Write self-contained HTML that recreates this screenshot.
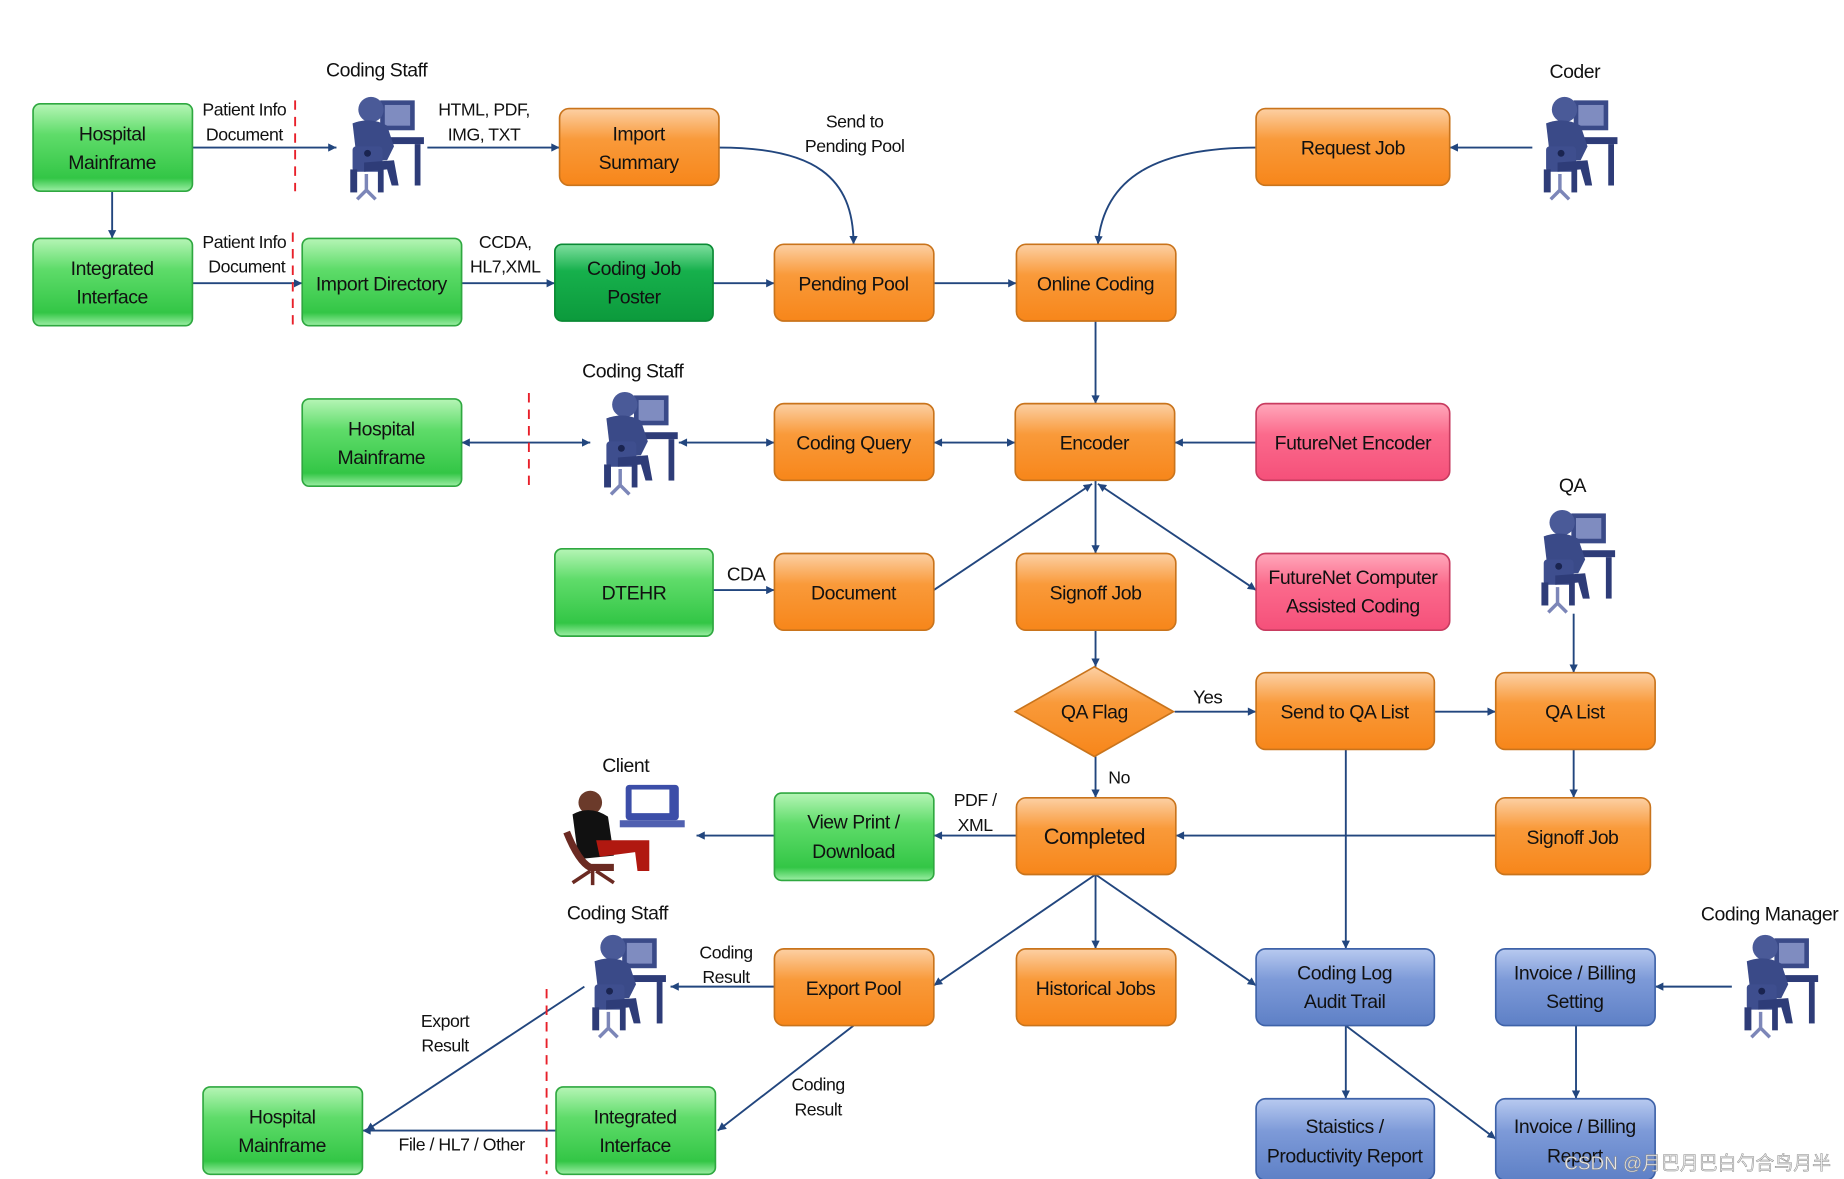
<!DOCTYPE html>
<html><head><meta charset="utf-8"><style>
html,body{margin:0;padding:0;background:#fff;}
svg{display:block;}
text{font-family:"Liberation Sans Narrow","Liberation Sans",sans-serif;}
</style></head><body>
<svg width="1844" height="1179" viewBox="0 0 1562 999" preserveAspectRatio="none" xmlns="http://www.w3.org/2000/svg">
<defs>
<linearGradient id="gG" x1="0" y1="0" x2="0" y2="1"><stop offset="0" stop-color="#b6f5b6"/><stop offset="0.35" stop-color="#5fdc6a"/><stop offset="0.85" stop-color="#33c646"/><stop offset="1" stop-color="#9ceea4"/></linearGradient>
<linearGradient id="gD" x1="0" y1="0" x2="0" y2="1"><stop offset="0" stop-color="#7fdf9f"/><stop offset="0.35" stop-color="#16b04c"/><stop offset="1" stop-color="#0c9a3c"/></linearGradient>
<linearGradient id="gO" x1="0" y1="0" x2="0" y2="1"><stop offset="0" stop-color="#fcd0a4"/><stop offset="0.4" stop-color="#f99a3a"/><stop offset="1" stop-color="#f7861a"/></linearGradient>
<linearGradient id="gP" x1="0" y1="0" x2="0" y2="1"><stop offset="0" stop-color="#ffa8bb"/><stop offset="0.4" stop-color="#fb6a8c"/><stop offset="1" stop-color="#f5507a"/></linearGradient>
<linearGradient id="gB" x1="0" y1="0" x2="0" y2="1"><stop offset="0" stop-color="#b8caf0"/><stop offset="0.4" stop-color="#7d9ad8"/><stop offset="1" stop-color="#5e80c6"/></linearGradient>
<marker id="a" viewBox="0 0 10 10" refX="10" refY="5" markerWidth="9" markerHeight="7" orient="auto-start-reverse" markerUnits="userSpaceOnUse"><path d="M0,0 L10,5 L0,10 z" fill="#22467e"/></marker>
<symbol id="p" viewBox="0 0 80 95">
<rect x="38" y="6" width="30" height="26" fill="#3a4a88"/><rect x="42" y="10" width="22" height="18" fill="#7f8cc0"/>
<rect x="30" y="38" width="46" height="6" fill="#2e3c78"/><rect x="68" y="44" width="5" height="36" fill="#2e3c78"/>
<circle cx="30" cy="14" r="11" fill="#4a5a98"/>
<path d="M14,26 Q30,20 44,28 L50,46 L44,58 L18,60 Z" fill="#3a4a88"/>
<rect x="14" y="46" width="26" height="22" rx="3" fill="#3e4e8e"/><circle cx="27" cy="52" r="3" fill="#1a2450"/>
<path d="M24,60 L50,58 L54,80 L48,80 L44,66 L24,68 Z" fill="#2e3c78"/>
<rect x="12" y="66" width="6" height="20" fill="#2e3c78"/><rect x="36" y="66" width="5" height="20" fill="#2e3c78"/>
<path d="M26,70 L26,84 M18,92 L26,84 L34,92" stroke="#7c86b8" stroke-width="3" fill="none"/>
</symbol>
</defs>
<g fill="none" stroke="#22467e" stroke-width="1.6">
<path d="M163,125 H285" marker-end="url(#a)"/>
<path d="M362,125 H474" marker-end="url(#a)"/>
<path d="M95,162 V202" marker-end="url(#a)"/>
<path d="M163,240 H256" marker-end="url(#a)"/>
<path d="M391,240 H470" marker-end="url(#a)"/>
<path d="M604,240 H656" marker-end="url(#a)"/>
<path d="M609,125 C690,125 723,150 723,207" marker-end="url(#a)"/>
<path d="M791,240 H861" marker-end="url(#a)"/>
<path d="M1064,125 C980,125 935,150 930,207" marker-end="url(#a)"/>
<path d="M1298,125 H1228" marker-end="url(#a)"/>
<path d="M928,272 V342" marker-end="url(#a)"/>
<path d="M391,375 H500" marker-start="url(#a)" marker-end="url(#a)"/>
<path d="M575,375 H656" marker-start="url(#a)" marker-end="url(#a)"/>
<path d="M791,375 H860" marker-start="url(#a)" marker-end="url(#a)"/>
<path d="M1064,375 H995" marker-end="url(#a)"/>
<path d="M791,500 L925,410" marker-end="url(#a)"/>
<path d="M928,407 V469" marker-end="url(#a)"/>
<path d="M930,410 L1064,500" marker-start="url(#a)" marker-end="url(#a)"/>
<path d="M604,500 H656" marker-end="url(#a)"/>
<path d="M928,534 V565" marker-end="url(#a)"/>
<path d="M995,603 H1064" marker-end="url(#a)"/>
<path d="M928,641 V676" marker-end="url(#a)"/>
<path d="M1215,603 H1267" marker-end="url(#a)"/>
<path d="M1333,520 V570" marker-end="url(#a)"/>
<path d="M1333,635 V676" marker-end="url(#a)"/>
<path d="M1267,708 H996" marker-end="url(#a)"/>
<path d="M1140,635 V804" marker-end="url(#a)"/>
<path d="M861,708 H791" marker-end="url(#a)"/>
<path d="M656,708 H590" marker-end="url(#a)"/>
<path d="M928,741 L791,835" marker-end="url(#a)"/>
<path d="M928,741 V804" marker-end="url(#a)"/>
<path d="M928,741 L1064,835" marker-end="url(#a)"/>
<path d="M656,836 H568" marker-end="url(#a)"/>
<path d="M495,836 L310,958" marker-end="url(#a)"/>
<path d="M471,958 H307" marker-end="url(#a)"/>
<path d="M723,869 L608,958" marker-end="url(#a)"/>
<path d="M1140,869 V931" marker-end="url(#a)"/>
<path d="M1140,869 L1267,965" marker-end="url(#a)"/>
<path d="M1467,836 H1402" marker-end="url(#a)"/>
<path d="M1335,869 V931" marker-end="url(#a)"/>
</g>
<g stroke="#e8202a" stroke-width="1.6" stroke-dasharray="8,6">
<path d="M250,85 V162"/><path d="M248,197 V278"/><path d="M448,333 V412"/><path d="M463,838 V995"/>
</g>
<g stroke-width="1.4">
<rect x="28" y="88" width="135" height="74" rx="6" fill="url(#gG)" stroke="#2fa840"/>
<rect x="28" y="202" width="135" height="74" rx="6" fill="url(#gG)" stroke="#2fa840"/>
<rect x="256" y="202" width="135" height="74" rx="6" fill="url(#gG)" stroke="#2fa840"/>
<rect x="470" y="207" width="134" height="65" rx="6" fill="url(#gD)" stroke="#0a8a34"/>
<rect x="256" y="338" width="135" height="74" rx="6" fill="url(#gG)" stroke="#2fa840"/>
<rect x="470" y="465" width="134" height="74" rx="6" fill="url(#gG)" stroke="#2fa840"/>
<rect x="656" y="672" width="135" height="74" rx="6" fill="url(#gG)" stroke="#2fa840"/>
<rect x="172" y="921" width="135" height="74" rx="6" fill="url(#gG)" stroke="#2fa840"/>
<rect x="471" y="921" width="135" height="74" rx="6" fill="url(#gG)" stroke="#2fa840"/>
<g fill="url(#gO)" stroke="#c9741c">
<rect x="474" y="92" width="135" height="65" rx="8"/>
<rect x="656" y="207" width="135" height="65" rx="8"/>
<rect x="861" y="207" width="135" height="65" rx="8"/>
<rect x="1064" y="92" width="164" height="65" rx="8"/>
<rect x="656" y="342" width="135" height="65" rx="8"/>
<rect x="860" y="342" width="135" height="65" rx="8"/>
<rect x="656" y="469" width="135" height="65" rx="8"/>
<rect x="861" y="469" width="135" height="65" rx="8"/>
<rect x="1064" y="570" width="151" height="65" rx="8"/>
<rect x="1267" y="570" width="135" height="65" rx="8"/>
<rect x="861" y="676" width="135" height="65" rx="8"/>
<rect x="1267" y="676" width="131" height="65" rx="8"/>
<rect x="656" y="804" width="135" height="65" rx="8"/>
<rect x="861" y="804" width="135" height="65" rx="8"/>
<path d="M927,565 L994,603 L927,641 L860,603 Z"/>
</g>
<g fill="url(#gP)" stroke="#c83c60">
<rect x="1064" y="342" width="164" height="65" rx="8"/>
<rect x="1064" y="469" width="164" height="65" rx="8"/>
</g>
<g fill="url(#gB)" stroke="#3e62a8">
<rect x="1064" y="804" width="151" height="65" rx="8"/>
<rect x="1267" y="804" width="135" height="65" rx="8"/>
<rect x="1064" y="931" width="151" height="69" rx="8"/>
<rect x="1267" y="931" width="135" height="69" rx="8"/>
</g>
</g>
<use href="#p" x="285" y="78" width="78" height="95"/>
<use href="#p" x="500" y="328" width="78" height="95"/>
<use href="#p" x="490" y="788" width="78" height="95"/>
<use href="#p" x="1296" y="78" width="78" height="95"/>
<use href="#p" x="1294" y="428" width="78" height="95"/>
<use href="#p" x="1466" y="788" width="78" height="95"/>
<g>
<rect x="530" y="665" width="45" height="30" rx="3" fill="#3c4ea8"/><rect x="535" y="669" width="32" height="20" fill="#fff"/>
<rect x="525" y="695" width="55" height="6" fill="#5060b0"/>
<circle cx="500" cy="680" r="10" fill="#6b3a2a"/>
<path d="M485,690 Q500,682 515,692 L520,725 L490,728 Z" fill="#111"/>
<path d="M505,712 L550,712 L550,738 L540,738 L538,722 L508,726 Z" fill="#b01810"/>
<path d="M480,705 Q490,730 500,735 L520,735" stroke="#6b2a22" stroke-width="6" fill="none"/>
<path d="M500,738 L485,748 M505,738 L520,748 M502,738 L502,750" stroke="#6b2a22" stroke-width="3"/>
</g>
<g font-size="16.5" fill="#111" text-anchor="middle" letter-spacing="-0.4">
<text x="95" y="119">Hospital</text><text x="95" y="143">Mainframe</text>
<text x="95" y="233">Integrated</text><text x="95" y="257">Interface</text>
<text x="323" y="246">Import Directory</text>
<text x="537" y="233">Coding Job</text><text x="537" y="257">Poster</text>
<text x="323" y="369">Hospital</text><text x="323" y="393">Mainframe</text>
<text x="537" y="508">DTEHR</text>
<text x="723" y="702">View Print /</text><text x="723" y="727">Download</text>
<text x="239" y="952">Hospital</text><text x="239" y="976">Mainframe</text>
<text x="538" y="952">Integrated</text><text x="538" y="976">Interface</text>
<text x="541" y="119">Import</text><text x="541" y="143">Summary</text>
<text x="723" y="246">Pending Pool</text>
<text x="928" y="246">Online Coding</text>
<text x="1146" y="131">Request Job</text>
<text x="723" y="381">Coding Query</text>
<text x="927" y="381">Encoder</text>
<text x="723" y="508">Document</text>
<text x="928" y="508">Signoff Job</text>
<text x="927" y="609">QA Flag</text>
<text x="1139" y="609">Send to QA List</text>
<text x="1334" y="609">QA List</text>
<text x="927" y="715" font-size="18.5">Completed</text>
<text x="1332" y="715">Signoff Job</text>
<text x="723" y="843">Export  Pool</text>
<text x="928" y="843">Historical Jobs</text>
<text x="1146" y="381">FutureNet Encoder</text>
<text x="1146" y="495">FutureNet Computer</text><text x="1146" y="519">Assisted Coding</text>
<text x="1139" y="830">Coding  Log</text><text x="1139" y="854">Audit Trail</text>
<text x="1334" y="830">Invoice / Billing</text><text x="1334" y="854">Setting</text>
<text x="1139" y="960">Staistics /</text><text x="1139" y="985">Productivity Report</text>
<text x="1334" y="960">Invoice / Billing</text><text x="1334" y="985">Report</text>
<text x="319" y="65">Coding Staff</text><text x="536" y="320">Coding Staff</text><text x="523" y="779">Coding Staff</text>
<text x="1334" y="66">Coder</text><text x="1332" y="417">QA</text><text x="1499" y="780">Coding Manager</text><text x="530" y="654">Client</text>
</g>
<g font-size="15" fill="#111" text-anchor="middle" letter-spacing="-0.4">
<text x="207" y="98">Patient Info</text><text x="207" y="119">Document</text>
<text x="410" y="98">HTML, PDF,</text><text x="410" y="119">IMG, TXT</text>
<text x="207" y="210">Patient Info</text><text x="209" y="231">Document</text>
<text x="428" y="210">CCDA,</text><text x="428" y="231">HL7,XML</text>
<text x="724" y="108">Send to</text><text x="724" y="129">Pending Pool</text>
<text x="632" y="492" font-size="16">CDA</text>
<text x="1023" y="596" font-size="16">Yes</text>
<text x="948" y="664">No</text>
<text x="826" y="683">PDF /</text><text x="826" y="704">XML</text>
<text x="615" y="812">Coding</text><text x="615" y="833">Result</text>
<text x="377" y="870">Export</text><text x="377" y="891">Result</text>
<text x="391" y="975">File / HL7 / Other</text>
<text x="693" y="924">Coding</text><text x="693" y="945">Result</text>
</g>
<text x="1438" y="991" font-size="16" text-anchor="middle" fill="#e8e8e8" stroke="#888" stroke-width="0.4">CSDN @月巴月巴白勺合鸟月半</text>
</svg>
</body></html>
